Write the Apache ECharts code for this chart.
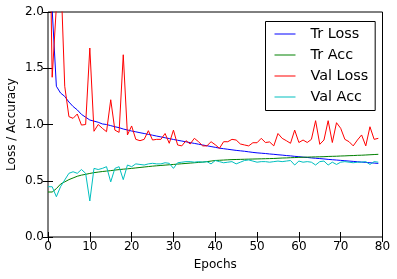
<!DOCTYPE html>
<html><head><meta charset="utf-8">
<script src="https://cdn.jsdelivr.net/npm/echarts@6/dist/echarts.min.js"></script>
<style>html,body{margin:0;padding:0;background:#fff}#c{width:397px;height:279px}</style>
</head><body><div id="c"></div>
<script>
const epochs = Array.from({length: 80}, (_, i) => i);
const seriesNames = ['Tr Loss', 'Tr Acc', 'Val Loss', 'Val Acc'];
const trLoss = [3.2,2.02,1.34,1.28,1.25,1.20,1.16,1.13,1.09,1.065,1.04,1.03,1.02,1.005,1.0,0.99,0.98,0.972,0.96,0.951,
0.942,0.935,0.927,0.92,0.912,0.905,0.897,0.89,0.882,0.875,0.867,0.86,0.853,0.846,0.839,0.832,0.825,0.818,0.811,0.804,
0.797,0.79,0.785,0.78,0.775,0.77,0.766,0.762,0.757,0.752,0.748,0.745,0.742,0.738,0.735,0.731,0.728,0.724,0.721,0.717,
0.714,0.71,0.707,0.703,0.70,0.697,0.694,0.69,0.687,0.684,0.681,0.678,0.675,0.672,0.669,0.666,0.663,0.66,0.657,0.654];
const trAcc = [0.40,0.40,0.43,0.47,0.49,0.51,0.525,0.54,0.55,0.557,0.565,0.572,0.577,0.582,0.586,0.59,0.595,0.599,0.603,0.606,
0.61,0.614,0.618,0.622,0.626,0.63,0.633,0.636,0.639,0.642,0.645,0.648,0.651,0.654,0.657,0.66,0.663,0.666,0.670,0.675,
0.68,0.682,0.684,0.686,0.688,0.689,0.690,0.691,0.692,0.693,0.694,0.695,0.696,0.697,0.698,0.700,0.702,0.703,0.705,0.706,
0.708,0.709,0.710,0.711,0.712,0.713,0.714,0.716,0.717,0.718,0.720,0.721,0.723,0.724,0.726,0.727,0.729,0.731,0.733,0.735];
const valLoss = [3.8,1.42,2.05,2.4,1.34,1.07,1.055,1.093,0.995,1.0,1.68,0.94,1.0,0.966,0.936,1.22,0.95,0.93,1.62,0.907,
0.987,0.868,0.856,0.868,0.945,0.862,0.868,0.868,0.92,0.833,0.95,0.818,0.81,0.856,0.827,0.877,0.847,0.81,0.81,0.847,
0.82,0.788,0.847,0.847,0.868,0.862,0.827,0.818,0.81,0.838,0.838,0.877,0.84,0.845,0.81,0.92,0.877,0.856,0.833,0.95,
0.84,0.862,0.84,0.868,1.034,0.824,0.862,1.034,0.84,1.016,0.966,0.868,0.847,0.81,0.862,0.907,0.81,0.98,0.868,0.877];
const valAcc = [0.447,0.447,0.358,0.447,0.507,0.566,0.58,0.566,0.60,0.566,0.32,0.61,0.60,0.61,0.625,0.49,0.61,0.625,0.51,0.64,
0.625,0.65,0.645,0.64,0.65,0.655,0.65,0.65,0.66,0.655,0.61,0.66,0.665,0.67,0.67,0.665,0.67,0.665,0.67,0.65,
0.68,0.67,0.66,0.665,0.67,0.65,0.665,0.68,0.685,0.675,0.665,0.67,0.67,0.665,0.67,0.675,0.67,0.675,0.68,0.64,
0.675,0.665,0.67,0.665,0.64,0.67,0.675,0.64,0.665,0.645,0.665,0.67,0.665,0.66,0.665,0.665,0.67,0.645,0.67,0.665];
const colors = ['#0000ff', '#008000', '#ff0000', '#00bfbf'];
const xTicks = {min: 0, max: 80, interval: 10};
const yTicks = {min: 0, max: 2, interval: 0.5};

const F = 'DejaVu Sans';
const allData = [trLoss, trAcc, valLoss, valAcc];
const chart = echarts.init(document.getElementById('c'), null, {renderer: 'canvas'});
const axisCommon = {
  axisLine: {show: false},
  axisTick: {show: true, inside: true, length: 5, lineStyle: {color: '#000', width: 1}},
  splitLine: {show: false}
};
chart.setOption({
  animation: false,
  backgroundColor: '#fff',
  grid: {left: 48, right: 14.5, top: 12, bottom: 42, containLabel: false, outerBoundsMode: 'none',
    show: true, borderColor: '#000', borderWidth: 1, backgroundColor: 'transparent'},
  xAxis: [
    Object.assign({type: 'value', position: 'bottom', min: xTicks.min, max: xTicks.max, interval: xTicks.interval,
      name: 'Epochs', nameLocation: 'middle', nameGap: 22, nameMoveOverlap: false,
      nameTextStyle: {fontFamily: F, fontSize: 12, color: '#000'},
      axisLabel: {margin: 4, fontFamily: F, fontSize: 12, color: '#000'}}, axisCommon),
    Object.assign({type: 'value', position: 'top', min: xTicks.min, max: xTicks.max, interval: xTicks.interval,
      axisLabel: {show: false}}, axisCommon)
  ],
  yAxis: [
    Object.assign({type: 'value', position: 'left', min: yTicks.min, max: yTicks.max, interval: yTicks.interval,
      name: 'Loss / Accuracy', nameLocation: 'middle', nameGap: 30, nameMoveOverlap: false,
      nameTextStyle: {fontFamily: F, fontSize: 12, color: '#000'},
      axisLabel: {margin: 4, fontFamily: F, fontSize: 12, color: '#000', formatter: v => v.toFixed(1)}}, axisCommon),
    Object.assign({type: 'value', position: 'right', min: yTicks.min, max: yTicks.max, interval: yTicks.interval,
      axisLabel: {show: false}}, axisCommon)
  ],
  legend: {
    left: 265.5, top: 21.5, orient: 'vertical',
    backgroundColor: '#fff', borderColor: '#000', borderWidth: 1, borderRadius: 0,
    padding: [4, 7, 5, 9], itemGap: 4, itemWidth: 21, itemHeight: 1,
    icon: 'rect',
    textStyle: {fontFamily: F, fontSize: 14.4, color: '#000', lineHeight: 17, padding: [0, 0, 0, 10]},
    data: seriesNames
  },
  series: seriesNames.map((n, i) => ({
    name: n, type: 'line', symbol: 'none', clip: true,
    data: epochs.map((e, j) => [e, allData[i][j]]),
    lineStyle: {width: 1, color: colors[i]}, itemStyle: {color: colors[i]}
  }))
});
</script></body></html>
